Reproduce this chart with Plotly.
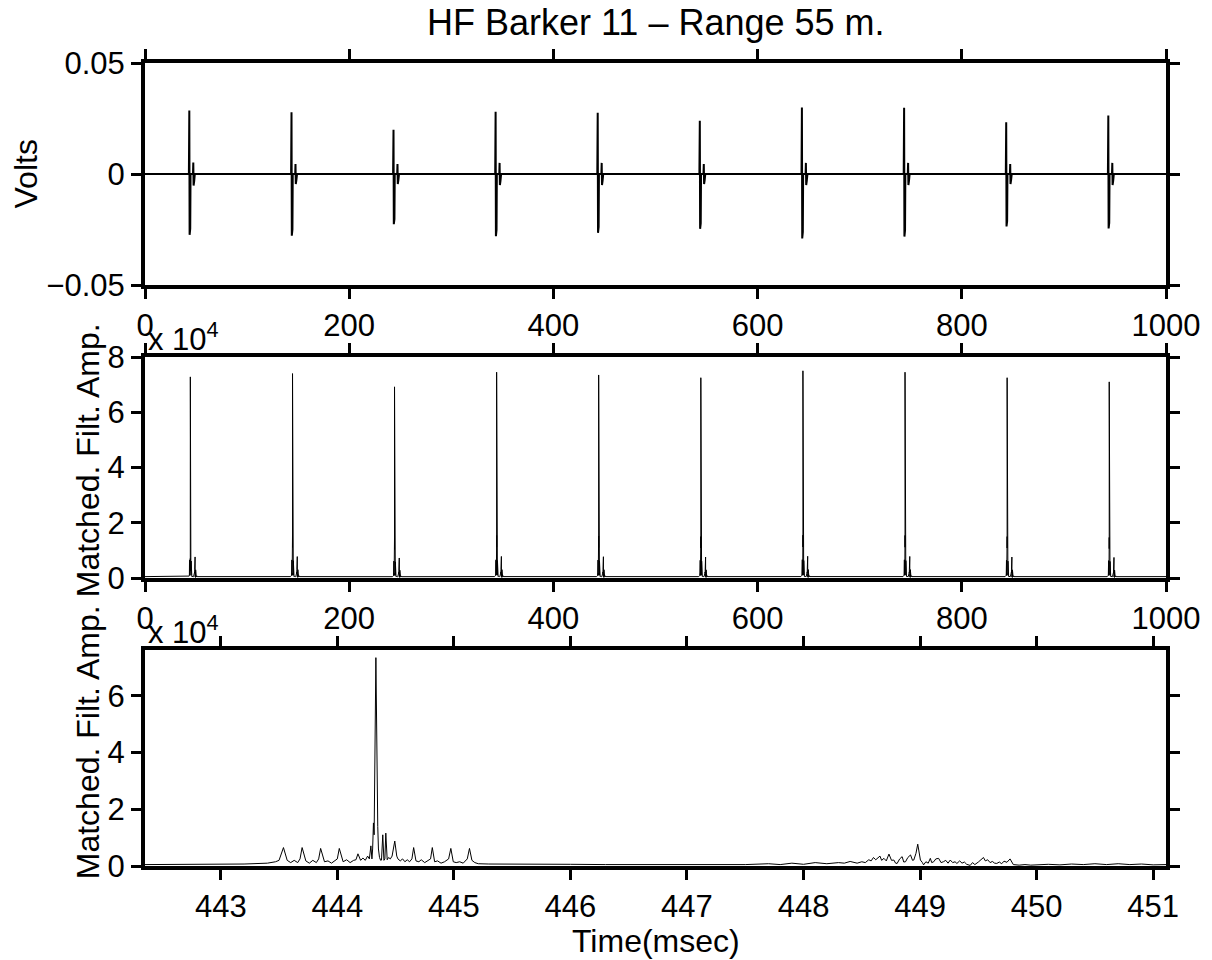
import plotly.graph_objects as go

# ---------------- data ----------------
# Panel 1: raw received pulses (Volts)
raw_times = [44.0, 144.1, 244.0, 344.0, 444.0, 544.0, 644.0, 744.1, 844.1, 944.1]
raw_pos = [0.0286, 0.0278, 0.0199, 0.0280, 0.0276, 0.0240, 0.0300, 0.0298, 0.0233, 0.0263]
raw_neg = [-0.0274, -0.0278, -0.0226, -0.0280, -0.0265, -0.0247, -0.0290, -0.0282, -0.0236, -0.0245]
raw_echo = [0.0052, 0.0045, 0.0045, 0.0050, 0.0050, 0.0045, 0.0050, 0.0050, 0.0045, 0.0050]
# shape of one raw pulse: time offsets (ms) and weights (p=pos amp, n=neg amp, e=echo amp, 0=zero)
raw_shape_dt = [-1.0, -0.6, -0.3, 0.0, 0.3, 0.6, 3.0, 3.3, 3.6, 3.9, 4.2, 4.8]
raw_shape_kind = ["0", "p", "n", "p", "n", "0", "0", "e", "-e", "e", "-e", "0"]
raw_shape_w = [0, 1.0, 1.0, 0.9, 0.9, 0, 0, 1.0, 1.0, 0.6, 0.6, 0]

# Panel 2: matched filter peaks (x 1e4)
mf_times = [44.4, 144.5, 244.4, 344.4, 444.33, 544.4, 644.4, 744.4, 844.4, 944.4]
mf_peaks = [7.28, 7.40, 6.92, 7.45, 7.35, 7.25, 7.50, 7.45, 7.25, 7.10]

# Panel 3: matched filter output around the 5th pulse (t in msec, value x 1e4)
zoom_t = [442.35, 442.6, 442.9, 443.2, 443.4, 443.47,
          443.50, 443.538, 443.57, 443.60, 443.63, 443.66,
          443.68, 443.698, 443.73, 443.76, 443.79, 443.82,
          443.84, 443.857, 443.89, 443.92, 443.95, 443.98,
          444.00, 444.017, 444.05, 444.08, 444.11, 444.14,
          444.16, 444.177, 444.20, 444.22, 444.24, 444.26, 444.275,
          444.288, 444.297, 444.303, 444.310, 444.316, 444.331, 444.347, 444.353,
          444.362, 444.372, 444.379, 444.390, 444.400, 444.408, 444.416, 444.428,
          444.44, 444.455, 444.47, 444.493, 444.51, 444.52, 444.54, 444.56,
          444.58, 444.60, 444.62, 444.64, 444.655, 444.675, 444.70, 444.72,
          444.75, 444.78, 444.80, 444.815, 444.835, 444.86, 444.89, 444.92,
          444.955, 444.974, 444.995, 445.02, 445.05, 445.08, 445.115, 445.134,
          445.155, 445.18, 445.21, 445.3, 445.5, 445.8, 446.0, 446.3, 446.6,
          446.9, 447.2, 447.5, 447.7, 447.8, 447.9, 448.0, 448.1, 448.2, 448.3,
          448.35, 448.4, 448.46, 448.50, 448.53, 448.56, 448.58, 448.60, 448.62,
          448.656, 448.67, 448.69, 448.71, 448.733, 448.755, 448.775, 448.79,
          448.803, 448.825, 448.846, 448.86, 448.875, 448.895, 448.918, 448.935,
          448.946, 448.965, 448.98, 448.995, 449.003, 449.02, 449.03, 449.05,
          449.07, 449.088, 449.10, 449.117, 449.135, 449.159, 449.18, 449.20,
          449.22, 449.24, 449.259, 449.28, 449.30, 449.316, 449.34, 449.36,
          449.38, 449.40, 449.43, 449.45, 449.47, 449.50, 449.52, 449.544,
          449.56, 449.58, 449.601, 449.62, 449.64, 449.658, 449.68, 449.70,
          449.72, 449.745, 449.772, 449.79, 449.80, 449.85, 449.9, 449.95,
          450.0, 450.1, 450.2, 450.3, 450.4, 450.5, 450.6, 450.7, 450.8,
          450.9, 451.0, 451.11]
zoom_v = [0.05, 0.06, 0.05, 0.07, 0.10, 0.15,
          0.20, 0.65, 0.20, 0.12, 0.20, 0.12,
          0.25, 0.65, 0.18, 0.10, 0.20, 0.12,
          0.25, 0.62, 0.15, 0.18, 0.10, 0.20,
          0.25, 0.62, 0.15, 0.22, 0.12, 0.20,
          0.22, 0.43, 0.20, 0.28, 0.20, 0.35, 0.25,
          0.71, 0.25, 0.60, 1.52, 1.10, 7.35, 1.39, 0.60,
          0.30, 0.20, 0.21, 1.10, 0.20, 0.25, 1.16, 0.22,
          0.30, 0.25, 0.35, 0.88, 0.35, 0.25, 0.18, 0.25,
          0.15, 0.22, 0.15, 0.25, 0.65, 0.18, 0.15, 0.22,
          0.12, 0.20, 0.25, 0.65, 0.15, 0.18, 0.10, 0.15,
          0.25, 0.62, 0.15, 0.12, 0.15, 0.10, 0.25, 0.62,
          0.20, 0.12, 0.08, 0.07, 0.06, 0.05, 0.06, 0.05, 0.05,
          0.04, 0.05, 0.05, 0.08, 0.05, 0.10, 0.06, 0.12, 0.08, 0.12,
          0.10, 0.16, 0.10, 0.15, 0.12, 0.22, 0.18, 0.30, 0.22,
          0.35, 0.20, 0.27, 0.18, 0.42, 0.20, 0.21, 0.10,
          0.09, 0.25, 0.33, 0.14, 0.15, 0.30, 0.39, 0.20,
          0.21, 0.45, 0.77, 0.30, 0.21, 0.12, 0.04, 0.15,
          0.10, 0.27, 0.12, 0.15, 0.25, 0.27, 0.12, 0.15,
          0.20, 0.10, 0.21, 0.12, 0.15, 0.09, 0.18, 0.10,
          0.14, 0.06, 0.02, 0.12, 0.05, 0.14, 0.20, 0.30,
          0.18, 0.22, 0.12, 0.16, 0.10, 0.09, 0.14, 0.08,
          0.17, 0.13, 0.25, 0.10, 0.05, 0.03, 0.05, 0.03,
          0.04, 0.06, 0.04, 0.07, 0.05, 0.08, 0.05, 0.08, 0.05,
          0.07, 0.04, 0.05]
zoom_peak_t = 444.331
zoom_peak_v = 7.35

x1_ticks = [0, 200, 400, 600, 800, 1000]
y1_ticks = [-0.05, 0, 0.05]
y1_labels = ["\u22120.05", "0", "0.05"]
y2_ticks = [0, 2, 4, 6, 8]
y3_ticks = [0, 2, 4, 6]
x3_ticks = [443, 444, 445, 446, 447, 448, 449, 450, 451]

# ---------------- build polylines ----------------
x1, y1 = [0.0], [0.0]
for t, a, b, e in zip(raw_times, raw_pos, raw_neg, raw_echo):
    for dt, kind, w in zip(raw_shape_dt, raw_shape_kind, raw_shape_w):
        x1.append(t + dt)
        if kind == "p":
            y1.append(a * w)
        elif kind == "n":
            y1.append(b * w)
        elif kind == "e":
            y1.append(e * w)
        elif kind == "-e":
            y1.append(-e * w)
        else:
            y1.append(0.0)
x1.append(1000.0)
y1.append(0.0)

x2, y2 = [0.0], [0.05]
for T, P in zip(mf_times, mf_peaks):
    for t, v in zip(zoom_t, zoom_v):
        x2.append(T + (t - zoom_peak_t))
        y2.append(v * P / zoom_peak_v)
x2.append(1000.0)
y2.append(0.05)

# ---------------- figure ----------------
W, H = 1212, 960
L, R, T_, B = 145, 42, 63, 94
ph = H - T_ - B


def fy(py):
    return 1 - (py - T_) / ph


FONT = "Liberation Sans, Arial, Helvetica, sans-serif"
TF = 31
LF = 32
TTF = 36

fig = go.Figure()
fig.add_trace(go.Scatter(x=x1, y=y1, mode="lines", line=dict(color="black", width=2),
                         xaxis="x", yaxis="y", showlegend=False))
fig.add_trace(go.Scatter(x=x2, y=y2, mode="lines", line=dict(color="black", width=1),
                         xaxis="x2", yaxis="y2", showlegend=False))
fig.add_trace(go.Scatter(x=zoom_t, y=zoom_v, mode="lines", line=dict(color="black", width=1),
                         xaxis="x3", yaxis="y3", showlegend=False))

ax_common = dict(showline=True, linewidth=4, linecolor="black", mirror="allticks",
                 ticks="outside", ticklen=10, tickwidth=3, tickcolor="black",
                 showgrid=False, zeroline=False,
                 tickfont=dict(family=FONT, size=TF, color="black"))

fig.update_layout(
    width=W, height=H, margin=dict(l=L, r=R, t=T_, b=B),
    paper_bgcolor="white", plot_bgcolor="white",
    xaxis=dict(domain=[0, 1], anchor="y", range=[0, 1000], tickvals=x1_ticks, **ax_common),
    yaxis=dict(domain=[fy(285), 1.0], anchor="x", range=[-0.05, 0.05], tickvals=y1_ticks,
               ticktext=y1_labels, **ax_common),
    xaxis2=dict(domain=[0, 1], anchor="y2", range=[0, 1000], tickvals=x1_ticks, **ax_common),
    yaxis2=dict(domain=[fy(578), fy(357)], anchor="x2", range=[0, 8], tickvals=y2_ticks, **ax_common),
    xaxis3=dict(domain=[0, 1], anchor="y3", range=[442.35, 451.11], tickvals=x3_ticks, **ax_common),
    yaxis3=dict(domain=[0, fy(650)], anchor="x3", range=[0, 7.62], tickvals=y3_ticks, **ax_common),
)


def xp(px):
    return (px - L) / (W - L - R)


ann = [
    dict(text="HF Barker 11 \u2013 Range 55 m.", x=xp(658), y=fy(22), size=TTF, angle=0),
    dict(text="Volts", x=xp(26), y=fy(174), size=LF, angle=-90),
    dict(text="Matched. Filt. Amp.", x=xp(88), y=fy(460), size=LF, angle=-90),
    dict(text="Matched. Filt. Amp.", x=xp(88), y=fy(742), size=LF, angle=-90),
    dict(text="Time(msec)", x=xp(658), y=fy(941), size=LF, angle=0),
]
for a in ann:
    fig.add_annotation(text=a["text"], xref="paper", yref="paper", x=a["x"], y=a["y"],
                       xanchor="center", yanchor="middle", textangle=a["angle"], showarrow=False,
                       font=dict(family=FONT, size=a["size"], color="black"))

for ycen in (337, 630):
    fig.add_annotation(text="x 10<sup>4</sup>", xref="paper", yref="paper", x=xp(146), y=fy(ycen),
                       xanchor="left", yanchor="middle", showarrow=False,
                       font=dict(family=FONT, size=TF, color="black"))

fig.write_html("out.html")
